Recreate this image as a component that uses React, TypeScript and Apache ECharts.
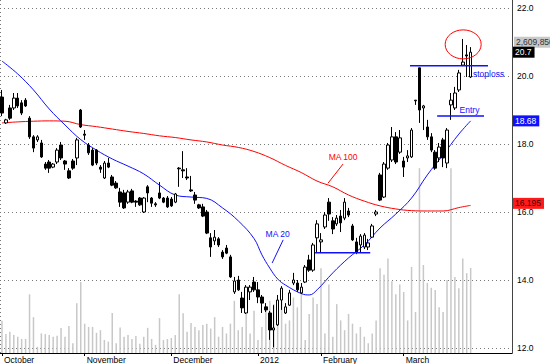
import React, { useEffect, useRef } from 'react';
import * as echarts from 'echarts';

const FONT = '"Liberation Sans", Arial, sans-serif';
const FS = 8.5;

const monthLabels = ['October', 'November', 'December', '2012', 'February', 'March'];
const monthStart = [0, 21, 43, 65, 81, 102];
const yearBreakIdx = 65;
const categoryCount = 130;

const priceMin = 12;
const priceMax = 22;
const priceInterval = 2;

// [open, close, low, high]
const ohlc: number[][] = [
  [19.38, 18.91, 18.82, 19.59], [18.62, 18.71, 18.59, 18.74], [19.06, 18.76, 18.71, 19.15], [19.06, 19.35, 19.0, 19.5],
  [19.35, 19.12, 19.06, 19.5], [19.21, 18.91, 18.85, 19.29], [19.29, 19.12, 19.09, 19.35], [18.76, 18.21, 18.15, 18.82],
  [18.21, 17.88, 17.76, 18.26], [18.12, 18.21, 18.06, 18.26], [18.03, 17.62, 17.59, 18.12], [17.41, 17.29, 17.24, 17.47],
  [17.47, 17.29, 17.15, 17.53], [17.32, 17.41, 17.29, 17.44], [17.47, 17.82, 17.41, 17.88], [17.97, 17.59, 17.53, 18.06],
  [17.5, 17.41, 17.24, 17.53], [17.21, 17.0, 16.97, 17.29], [17.5, 17.29, 17.24, 17.56], [17.59, 18.12, 17.38, 18.18],
  [19.0, 18.5, 18.47, 19.03], [18.29, 18.26, 18.12, 18.41], [17.97, 17.74, 17.68, 18.03], [17.82, 17.38, 17.35, 17.88],
  [17.82, 17.44, 17.38, 17.85], [17.32, 17.26, 17.15, 17.38], [17.0, 17.44, 16.97, 17.5], [17.44, 17.32, 17.29, 17.59],
  [17.03, 16.79, 16.76, 17.09], [16.85, 16.71, 16.68, 16.91], [16.59, 16.29, 16.15, 16.71], [16.56, 16.12, 16.09, 16.65],
  [16.29, 16.59, 16.24, 16.65], [16.62, 16.29, 16.26, 16.68], [16.32, 16.29, 16.15, 16.35], [16.41, 16.21, 16.18, 16.44],
  [16.0, 16.41, 15.97, 16.44], [16.74, 16.56, 16.29, 16.79], [16.41, 16.26, 16.15, 16.44], [16.24, 16.21, 16.15, 16.29],
  [16.56, 16.41, 16.38, 16.88], [16.41, 16.29, 16.26, 16.44], [16.41, 16.15, 16.12, 16.47], [16.38, 16.18, 16.15, 16.44],
  [16.29, 16.53, 16.26, 16.56], [17.29, 17.27, 16.74, 17.32], [17.24, 17.21, 17.0, 17.79], [17.03, 17.0, 16.94, 17.29],
  [16.65, 16.62, 16.59, 17.06], [16.5, 16.35, 16.24, 16.59], [16.21, 16.12, 16.09, 16.24], [16.15, 15.88, 15.85, 16.24],
  [16.0, 15.38, 15.35, 16.06], [15.24, 14.97, 14.68, 15.38], [15.15, 15.26, 15.03, 15.47], [15.21, 15.03, 14.97, 15.26],
  [14.82, 14.68, 14.62, 14.88], [14.94, 14.79, 14.76, 15.03], [14.68, 14.09, 14.06, 14.74], [13.65, 13.97, 13.59, 14.09],
  [14.0, 13.71, 13.68, 14.12], [13.47, 13.18, 13.03, 13.65], [13.03, 13.79, 13.0, 13.85], [13.65, 13.79, 13.41, 13.85],
  [13.94, 13.71, 13.65, 14.09], [13.71, 13.5, 13.32, 13.94], [13.5, 13.32, 13.03, 13.56], [13.21, 13.12, 13.06, 13.32],
  [13.03, 12.53, 12.24, 13.09], [12.53, 12.59, 12.02, 13.26], [12.68, 13.41, 12.65, 13.56], [13.41, 13.76, 13.12, 13.82],
  [13.03, 13.21, 13.0, 13.32], [13.26, 13.62, 13.24, 13.71], [13.91, 14.0, 13.85, 14.21], [13.91, 13.71, 13.65, 14.0],
  [13.62, 13.79, 13.59, 13.91], [13.94, 14.38, 13.91, 14.44], [14.59, 14.29, 14.24, 14.74], [14.29, 15.03, 14.24, 15.09],
  [15.24, 15.65, 14.79, 15.76], [15.12, 15.18, 14.79, 15.38], [15.56, 15.91, 15.5, 16.0], [16.29, 15.94, 15.74, 16.41],
  [15.74, 15.5, 15.35, 15.85], [15.65, 15.82, 15.59, 15.91], [15.88, 15.68, 15.41, 16.06], [15.82, 16.29, 15.76, 16.41],
  [16.03, 15.91, 15.85, 16.12], [15.59, 15.18, 15.15, 15.65], [15.12, 14.82, 14.76, 15.24], [15.03, 15.29, 14.82, 15.35],
  [14.97, 15.32, 14.91, 15.38], [14.97, 15.09, 14.88, 15.21], [15.26, 15.59, 15.24, 15.65], [15.94, 16.0, 15.88, 16.06],
  [17.09, 16.35, 16.32, 17.15], [16.44, 17.41, 16.41, 17.47], [17.29, 17.97, 17.24, 18.03], [17.53, 18.21, 17.47, 18.5],
  [18.21, 17.47, 17.41, 18.35], [17.76, 18.18, 17.71, 18.41], [17.5, 17.32, 17.03, 17.62], [17.59, 17.65, 17.47, 17.82],
  [17.62, 18.41, 17.59, 18.47], [19.29, 19.27, 19.15, 19.29], [20.24, 19.0, 18.62, 20.24], [19.06, 19.12, 18.41, 19.15],
  [18.5, 18.21, 18.12, 18.71], [18.21, 17.82, 17.76, 18.32], [17.76, 17.29, 17.24, 17.82], [17.59, 17.91, 17.47, 18.03],
  [18.12, 17.59, 17.32, 18.18], [17.44, 18.41, 17.29, 18.47], [19.15, 19.29, 18.71, 19.5], [19.06, 19.5, 19.0, 19.68],
  [19.59, 20.09, 19.53, 20.18], [20.32, 20.41, 20.29, 21.09], [20.62, 20.59, 19.97, 20.91], [19.97, 20.7, 19.94, 20.85],
];

// volume, millions of shares
const volume: number[] = [
  0.99, 0.58, 0.65, 0.55, 0.5, 0.43, 0.43, 1.8, 1.1, 0.19, 0.6, 0.58, 0.55, 0.5, 0.53, 0.77, 0.5, 0.83, 0.3, 1.53,
  2.18, 0.9, 0.8, 0.8, 0.62, 0.7, 0.4, 0.35, 1.23, 0.3, 0.78, 0.5, 0.55, 0.43, 0.52, 0.28, 0.5, 0.77, 0.43, 0.25,
  1.07, 0.4, 0.43, 0.46, 0.55, 1.8, 1.22, 0.65, 0.92, 0.8, 0.7, 0.86, 0.9, 0.75, 1.1, 0.5, 0.8, 0.6, 0.9, 1.6,
  0.7, 0.8, 1.2, 0.6, 1.3, 0.4, 0.8, 1.3, 1.6, 1.5, 1.2, 1.6, 0.9, 1.0, 1.7, 1.4, 1.8, 0.4, 1.2, 1.7,
  1.5, 2.6, 0.6, 2.1, 0.5, 1.5, 1.0, 0.7, 1.2, 0.9, 0.6, 0.8, 0.5, 0.3, 0.6, 1.0, 2.6, 2.4, 2.9, 2.2,
  1.8, 2.1, 1.87, 1.0, 2.64, 1.26, 5.67, 2.7, 2.15, 2.0, 1.93, 1.4, 1.26, 2.24, 5.67, 2.33, 1.99, 2.9, 2.45, 2.61,
];
const volumeAxisMax = 10.83;
const lastVolumeText = '2,609,850';

const ma20Idx = [0, 4, 8, 12, 16, 20, 24, 28, 32, 36, 40, 44, 48, 52, 56, 60, 64, 66, 68, 70, 72, 76, 78, 80, 84, 88, 92, 96, 100, 104, 108, 112, 116, 119];
const ma20Val = [20.44, 20.06, 19.59, 19.03, 18.56, 18.13, 17.82, 17.56, 17.35, 17.12, 16.79, 16.5, 16.44, 16.4, 16.12, 15.74, 15.22, 14.74, 14.35, 14.03, 13.85, 13.6, 13.56, 13.71, 14.21, 14.65, 15.03, 15.53, 15.94, 16.41, 17.09, 17.68, 18.29, 18.68];

const ma100Idx = [0, 4, 8, 12, 16, 20, 24, 28, 32, 36, 40, 44, 48, 52, 56, 60, 64, 68, 72, 76, 80, 84, 88, 92, 96, 100, 104, 108, 112, 116, 119];
const ma100Val = [18.62, 18.65, 18.67, 18.68, 18.67, 18.57, 18.51, 18.44, 18.37, 18.31, 18.24, 18.19, 18.12, 18.06, 17.97, 17.9, 17.78, 17.6, 17.37, 17.16, 16.91, 16.74, 16.5, 16.32, 16.18, 16.09, 16.04, 16.03, 16.03, 16.13, 16.195];

// annotations (data coordinates: category index, price)
const stopLoss = { from: 103.6, to: 123.4, price: 20.3 };
const entry = { from: 110.5, to: 122.4, price: 18.82 };
const support = { from: 79.5, to: 93.5, price: 14.8 };
const circle = { idx: 117.1, price: 20.93 };
const ma20Note = { textIdx: 70.0, textPrice: 15.35, from: [71.4, 15.18], to: [68.6, 14.5] };
const ma100Note = { textIdx: 86.6, textPrice: 17.62, from: [86.6, 17.41], to: [82.8, 16.85] };

function sparse(idx: number[], val: number[]) {
  const arr: (number | null)[] = new Array(ohlc.length).fill(null);
  idx.forEach((k, j) => (arr[k] = val[j]));
  return arr;
}

export default function App() {
  const ref = useRef<HTMLDivElement>(null);
  useEffect(() => {
    if (!ref.current) return;
    const chart = echarts.init(ref.current, null, { renderer: 'svg' });
    const cats = Array.from({ length: categoryCount }, (_, i) => String(i));
    const isMonth = (i: number) => monthStart.indexOf(i) >= 0;
    const option: any = {
      animation: false,
      backgroundColor: '#ffffff',
      textStyle: { fontFamily: FONT },
      grid: [
        { left: 0, right: 38, top: 8, bottom: 16 },
        { left: 0, right: 38, top: 0, bottom: 11 },
      ],
      xAxis: [
        { type: 'category', gridIndex: 0, data: cats, show: false, boundaryGap: true },
        {
          type: 'category', gridIndex: 1, data: cats, boundaryGap: true,
          axisLine: { show: true, lineStyle: { color: '#000', width: 1 } },
          axisTick: { show: true, interval: (i: number) => isMonth(i), alignWithLabel: true, length: 3, lineStyle: { color: '#000' } },
          axisLabel: {
            show: true, interval: (i: number) => isMonth(i), align: 'left', margin: 2,
            color: '#000', fontSize: FS, fontFamily: FONT, padding: [0, 0, 0, 2],
            formatter: (_v: string, i: number) => monthLabels[monthStart.indexOf(i)] || '',
          },
          splitLine: { show: true, interval: (i: number) => i === yearBreakIdx, lineStyle: { color: '#777', type: [1, 3], width: 1 } },
        },
      ],
      yAxis: [
        {
          type: 'value', gridIndex: 0, position: 'right', min: priceMin, max: priceMax, interval: priceInterval,
          axisLine: { show: false }, axisTick: { show: false },
          axisLabel: { color: '#000', fontSize: FS, fontFamily: FONT, margin: 5, formatter: (v: number) => v.toFixed(1) },
          splitLine: { show: true, lineStyle: { color: '#777', type: [1, 3], width: 1 } },
        },
        {
          type: 'value', gridIndex: 1, position: 'right', min: 0, max: volumeAxisMax,
          axisLine: { show: true, lineStyle: { color: '#444', width: 1 } },
          axisTick: { show: false }, axisLabel: { show: false }, splitLine: { show: false },
        },
      ],
      series: [
        {
          type: 'bar', name: 'Volume', xAxisIndex: 1, yAxisIndex: 1, data: volume, barWidth: 1.5,
          itemStyle: { color: '#c8c8c8' }, z: 1,
        },
        {
          type: 'line', name: 'MA 100', xAxisIndex: 0, yAxisIndex: 0, data: sparse(ma100Idx, ma100Val),
          connectNulls: true, smooth: 0.4, showSymbol: false, lineStyle: { color: '#ff0000', width: 1 }, z: 2,
        },
        {
          type: 'line', name: 'MA 20', xAxisIndex: 0, yAxisIndex: 0, data: sparse(ma20Idx, ma20Val),
          connectNulls: true, smooth: 0.4, showSymbol: false, lineStyle: { color: '#1010ff', width: 1 }, z: 2,
        },
        {
          type: 'candlestick', name: 'Price', xAxisIndex: 0, yAxisIndex: 0, data: ohlc, barWidth: 3, clip: false,
          itemStyle: {
            color: '#ffffff', color0: '#000000', borderColor: '#000000', borderColor0: '#000000',
            borderColorDoji: '#000000', borderWidth: 1,
          },
          z: 3,
        },
      ],
    };
    chart.setOption(option);

    const px = (i: number, v: number) => chart.convertToPixel({ gridIndex: 0 }, [i, v]) as number[];
    const x0 = px(0, priceMin)[0];
    const bw = px(1, priceMin)[0] - x0;
    const X = (i: number) => x0 + i * bw;
    const Y = (v: number) => px(0, v)[1];
    const rightEdge = x0 - bw / 2 + categoryCount * bw;

    const blue = '#1010ff';
    const red = '#ff0000';
    const hline = (a: { from: number; to: number; price: number }) => ({
      type: 'line', z: 10,
      shape: { x1: X(a.from), y1: Y(a.price), x2: X(a.to), y2: Y(a.price) },
      style: { stroke: blue, lineWidth: 1.5 },
    });
    const seg = (f: number[], t: number[], color: string) => ({
      type: 'line', z: 10,
      shape: { x1: X(f[0]), y1: Y(f[1]), x2: X(t[0]), y2: Y(t[1]) },
      style: { stroke: color, lineWidth: 1 },
    });
    const txt = (x: number, y: number, text: string, fill: string, align = 'left', extra: any = {}) => ({
      type: 'text', z: 11, x, y,
      style: { text, fill, font: `${FS}px ${FONT}`, textAlign: align, textVerticalAlign: 'middle', verticalAlign: 'middle', ...extra },
    });
    const lastClose = ohlc[ohlc.length - 1][1];
    const lastMa20 = ma20Val[ma20Val.length - 1];
    const lastMa100 = ma100Val[ma100Val.length - 1];
    const box = { padding: [1, 3, 0, 2], lineHeight: 10 };

    chart.setOption({
      graphic: [
        hline(stopLoss),
        hline(entry),
        hline(support),
        txt(X(119.6), Y(20.06), 'stoploss', blue),
        txt(X(118.7), Y(19.0), 'Entry', blue, 'center'),
        txt(X(ma20Note.textIdx), Y(ma20Note.textPrice), 'MA 20', blue, 'center'),
        seg(ma20Note.from, ma20Note.to, blue),
        txt(X(ma100Note.textIdx), Y(ma100Note.textPrice), 'MA 100', red, 'center'),
        seg(ma100Note.from, ma100Note.to, red),
        {
          type: 'ellipse', z: 10,
          shape: { cx: X(circle.idx), cy: Y(circle.price), rx: 18, ry: 14.5 },
          style: { stroke: red, fill: 'none', lineWidth: 1 },
        },
        txt(rightEdge + 2, Y(lastClose) - 10, lastVolumeText, '#333', 'left', { backgroundColor: '#c8c8c8', ...box }),
        txt(rightEdge + 1, Y(lastClose), String(lastClose), '#ffffff', 'left', { backgroundColor: '#000000', ...box }),
        txt(rightEdge + 1, Y(lastMa20), String(lastMa20), '#ffffff', 'left', { backgroundColor: '#1010ff', ...box }),
        txt(rightEdge + 1, Y(lastMa100) - 2, String(lastMa100), '#400000', 'left', { backgroundColor: '#ff1a1a', ...box }),
      ],
    });

    return () => chart.dispose();
  }, []);
  return <div ref={ref} style={{ position: 'fixed', left: 0, top: 0, width: 550, height: 364 }} />;
}
